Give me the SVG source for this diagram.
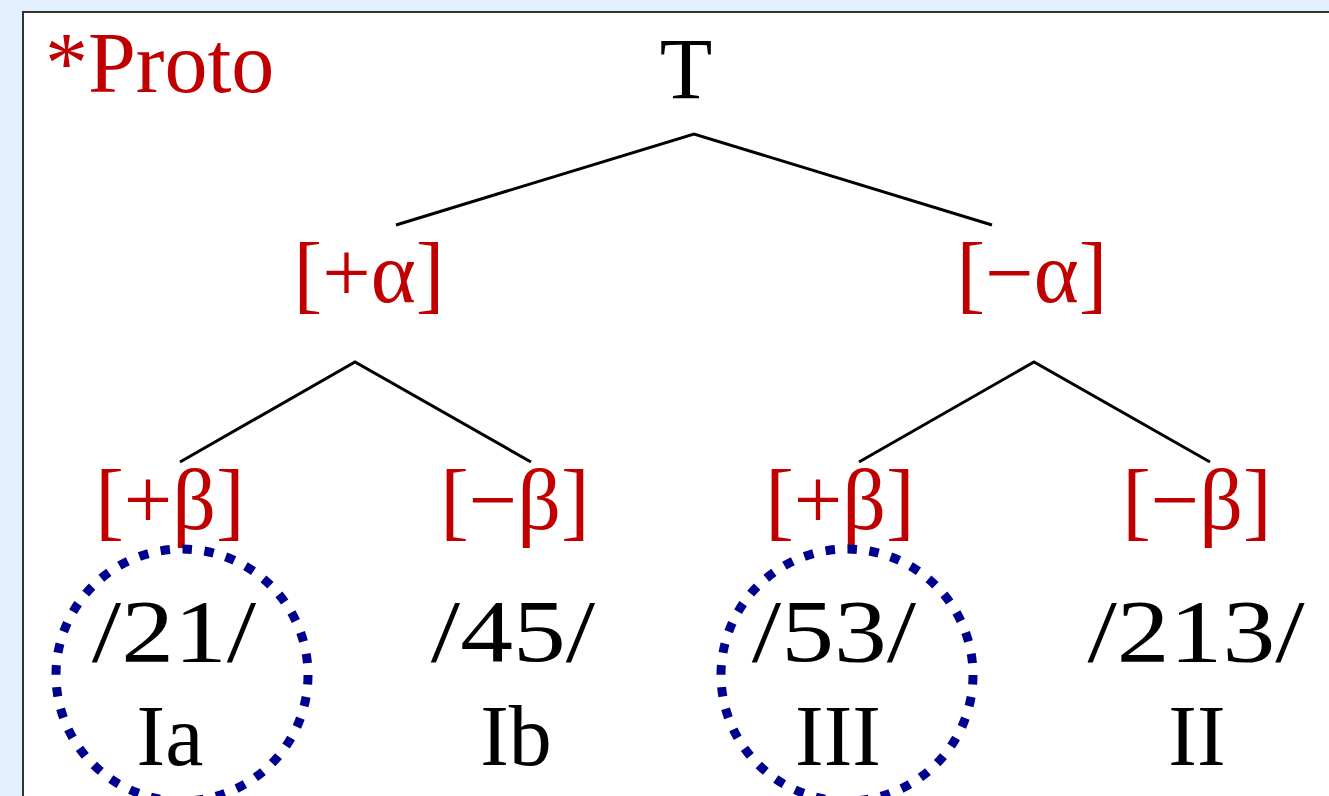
<svg xmlns="http://www.w3.org/2000/svg" width="1329" height="796" viewBox="0 0 1329 796">
<style>
text{font-family:"Liberation Serif","Times New Roman",serif;font-size:86px;text-anchor:middle}
.red{fill:#C00000}
.blk{fill:#000}
.num{font-size:88px}
.edge{stroke:#000;stroke-width:3;fill:none;stroke-linecap:butt}
.ring{fill:none;stroke:#00008E;stroke-width:9;stroke-dasharray:9.5 12.5}
</style>
<rect x="0" y="0" width="1329" height="796" fill="#E3F0FD"/>
<rect x="23" y="12" width="1400" height="900" fill="#FFFFFF" stroke="#333" stroke-width="2"/>
<g id="connectors">
<polyline class="edge" points="396,225 694,134 992,225"/>
<polyline class="edge" points="180,462 355,362 531,462"/>
<polyline class="edge" points="859,462 1034,362 1210,462"/>
</g>
<g id="title"><text class="red" x="45" y="92" style="text-anchor:start">*Proto</text></g>
<g id="root"><text class="blk" x="686" y="98">T</text></g>
<g id="plus-alpha"><text class="red" x="369" y="302">[+α]</text></g>
<g id="minus-alpha"><text class="red" x="1032" y="302">[−α]</text></g>
<g id="n-ia">
<text class="red" x="170" y="529">[+β]</text>
<text class="blk num" transform="translate(174,661) scale(1.2,1)">/21/</text>
<text class="blk" x="170" y="765">Ia</text>
<circle class="ring" cx="182" cy="675" r="126"/>
</g>
<g id="n-ib">
<text class="red" x="515" y="529">[−β]</text>
<text class="blk num" transform="translate(513,661) scale(1.2,1)">/45/</text>
<text class="blk" x="516" y="765">Ib</text>
</g>
<g id="n-iii">
<text class="red" x="840" y="529">[+β]</text>
<text class="blk num" transform="translate(834,661) scale(1.2,1)">/53/</text>
<text class="blk" x="838" y="765">III</text>
<circle class="ring" cx="847" cy="675" r="126"/>
</g>
<g id="n-ii">
<text class="red" x="1197" y="529">[−β]</text>
<text class="blk num" transform="translate(1196,661) scale(1.2,1)">/213/</text>
<text class="blk" x="1197" y="765">II</text>
</g>
</svg>
